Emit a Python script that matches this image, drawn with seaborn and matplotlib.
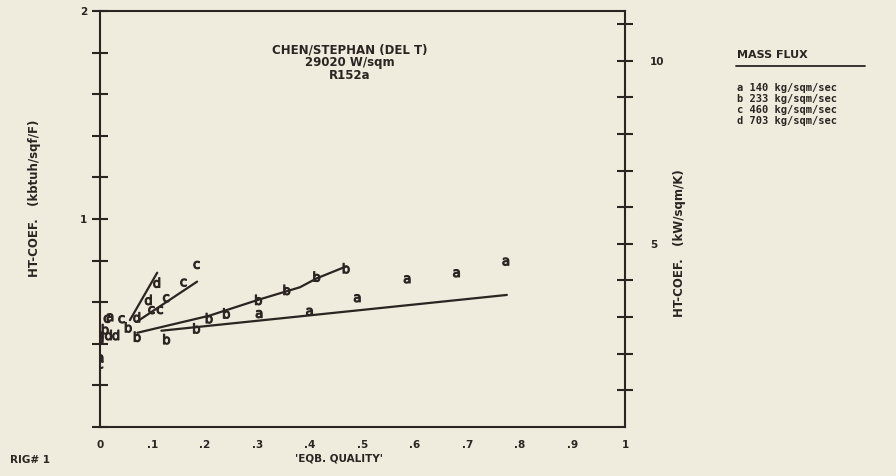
import numpy as np
import pandas as pd
import seaborn as sns
import matplotlib.pyplot as plt
from matplotlib.lines import Line2D

sns.set_style('white')
plt.rcParams['font.family'] = ['DejaVu Sans']

ink = '#2b2421'
paper = '#efebdd'

# measured points (quality, kbtuh/sqf/F) per mass flux
a_x = [0.0, 0.0, 0.019, 0.303, 0.399, 0.490, 0.585, 0.679, 0.773]
a_y = [0.44, 0.33, 0.527, 0.543, 0.554, 0.619, 0.710, 0.739, 0.795]
b_x = [0.01, 0.054, 0.071, 0.127, 0.184, 0.208, 0.241, 0.302, 0.356, 0.413, 0.469]
b_y = [0.47, 0.479, 0.434, 0.422, 0.474, 0.523, 0.546, 0.611, 0.659, 0.723, 0.763]
c_x = [0.0, 0.013, 0.041, 0.098, 0.114, 0.126, 0.159, 0.184]
c_y = [0.30, 0.52, 0.518, 0.562, 0.562, 0.619, 0.694, 0.779]
d_x = [0.0, 0.016, 0.030, 0.070, 0.092, 0.108]
d_y = [0.43, 0.442, 0.442, 0.527, 0.611, 0.694]

# correlation curves
a_line_x = [0.117, 0.775]
a_line_y = [0.463, 0.635]
b_line_x = [0.071, 0.208, 0.302, 0.381, 0.413, 0.469]
b_line_y = [0.453, 0.535, 0.612, 0.672, 0.715, 0.772]
c_line_x = [0.070, 0.185]
c_line_y = [0.506, 0.699]
d_line_x = [0.057, 0.109]
d_line_y = [0.514, 0.742]

legend_keys = ['a', 'b', 'c', 'd']
legend_flux = [140, 233, 460, 703]

to_kw = 5.678  # kbtuh/sqf/F -> kW/sqm/K

pts = pd.concat([
    pd.DataFrame({'x': a_x, 'y': a_y, 'series': 'a'}),
    pd.DataFrame({'x': b_x, 'y': b_y, 'series': 'b'}),
    pd.DataFrame({'x': c_x, 'y': c_y, 'series': 'c'}),
    pd.DataFrame({'x': d_x, 'y': d_y, 'series': 'd'}),
], ignore_index=True)

fig = plt.figure(figsize=(8.96, 4.76), dpi=100, facecolor=paper)
ax = fig.add_axes([0.1116, 0.1029, 0.5859, 0.874])
ax.set_facecolor(paper)

for lx, ly in [(a_line_x, a_line_y), (b_line_x, b_line_y),
               (c_line_x, c_line_y), (d_line_x, d_line_y)]:
    sns.lineplot(x=lx, y=ly, ax=ax, color=ink, linewidth=1.6, sort=False)

# letter markers; short letters (a, c) need a smaller box than tall ones (b, d)
sns.scatterplot(data=pts, x='x', y='y', style='series', size='series', ax=ax, color=ink,
                markers={k: '$\\mathsf{' + k + '}$' for k in legend_keys},
                sizes={'a': 30, 'b': 52, 'c': 30, 'd': 52},
                linewidth=0.8, edgecolor=ink, legend=False)

ax.set_xlim(0, 1)
ax.set_ylim(0, 2)
ax.set_xticks(np.arange(0, 1.01, 0.1))
ax.set_xticklabels(['0', '.1', '.2', '.3', '.4', '.5', '.6', '.7', '.8', '.9', '1'])
ax.set_yticks(np.arange(0, 2.01, 0.2))
ax.set_yticklabels(['1' if i == 5 else '2' if i == 10 else '' for i in range(11)])
ax.tick_params(direction='inout', length=12, width=1.5, color=ink, labelcolor=ink,
               labelsize=7.5, pad=3)
for lab in ax.get_xticklabels() + ax.get_yticklabels():
    lab.set_fontweight('bold')
for sp in ax.spines.values():
    sp.set_color(ink)
    sp.set_linewidth(1.5)

ax.set_xlabel("'EQB. QUALITY'", fontsize=7.5, fontweight='bold', color=ink)
ax.xaxis.set_label_coords(0.455, -0.064)
ax.set_ylabel('HT-COEF.   (kbtuh/sqf/F)', fontsize=8.5, fontweight='bold', color=ink)
ax.yaxis.set_label_coords(-0.113, 0.55)

ax2 = ax.twinx()
ax2.set_ylim(0, 2 * to_kw)
ax2.set_yticks(np.arange(1, 12))
ax2.set_yticklabels(['5' if v == 5 else '10' if v == 10 else '' for v in range(1, 12)])
ax2.tick_params(direction='inout', length=12, width=1.5, color=ink, labelcolor=ink,
                labelsize=7.5, pad=12)
for lab in ax2.get_yticklabels():
    lab.set_fontweight('bold')
for sp in ax2.spines.values():
    sp.set_visible(False)
ax2.set_ylabel('HT-COEF.   (kW/sqm/K)', fontsize=8.5, fontweight='bold', color=ink)
ax2.yaxis.set_label_coords(1.091, 0.442)

ax.text(0.476, 0.921, 'CHEN/STEPHAN (DEL T)\n29020 W/sqm\nR152a', transform=ax.transAxes,
        ha='center', va='top', fontsize=8.5, fontweight='bold', color=ink, linespacing=0.95)

fig.text(0.822, 0.878, 'MASS FLUX', fontsize=8, fontweight='bold', color=ink)
fig.add_artist(Line2D([0.821, 0.965], [0.862, 0.862], color=ink, linewidth=1.3))
for i, (k, f) in enumerate(zip(legend_keys, legend_flux)):
    fig.text(0.822, 0.815 - i * 0.0231, f'{k} {f} kg/sqm/sec', fontsize=7.5,
             fontweight='bold', color=ink, family='DejaVu Sans Mono', va='center')

fig.text(0.011, 0.027, 'RIG# 1', fontsize=7.5, fontweight='bold', color=ink)

plt.savefig('out.png', dpi=100, facecolor=paper)
